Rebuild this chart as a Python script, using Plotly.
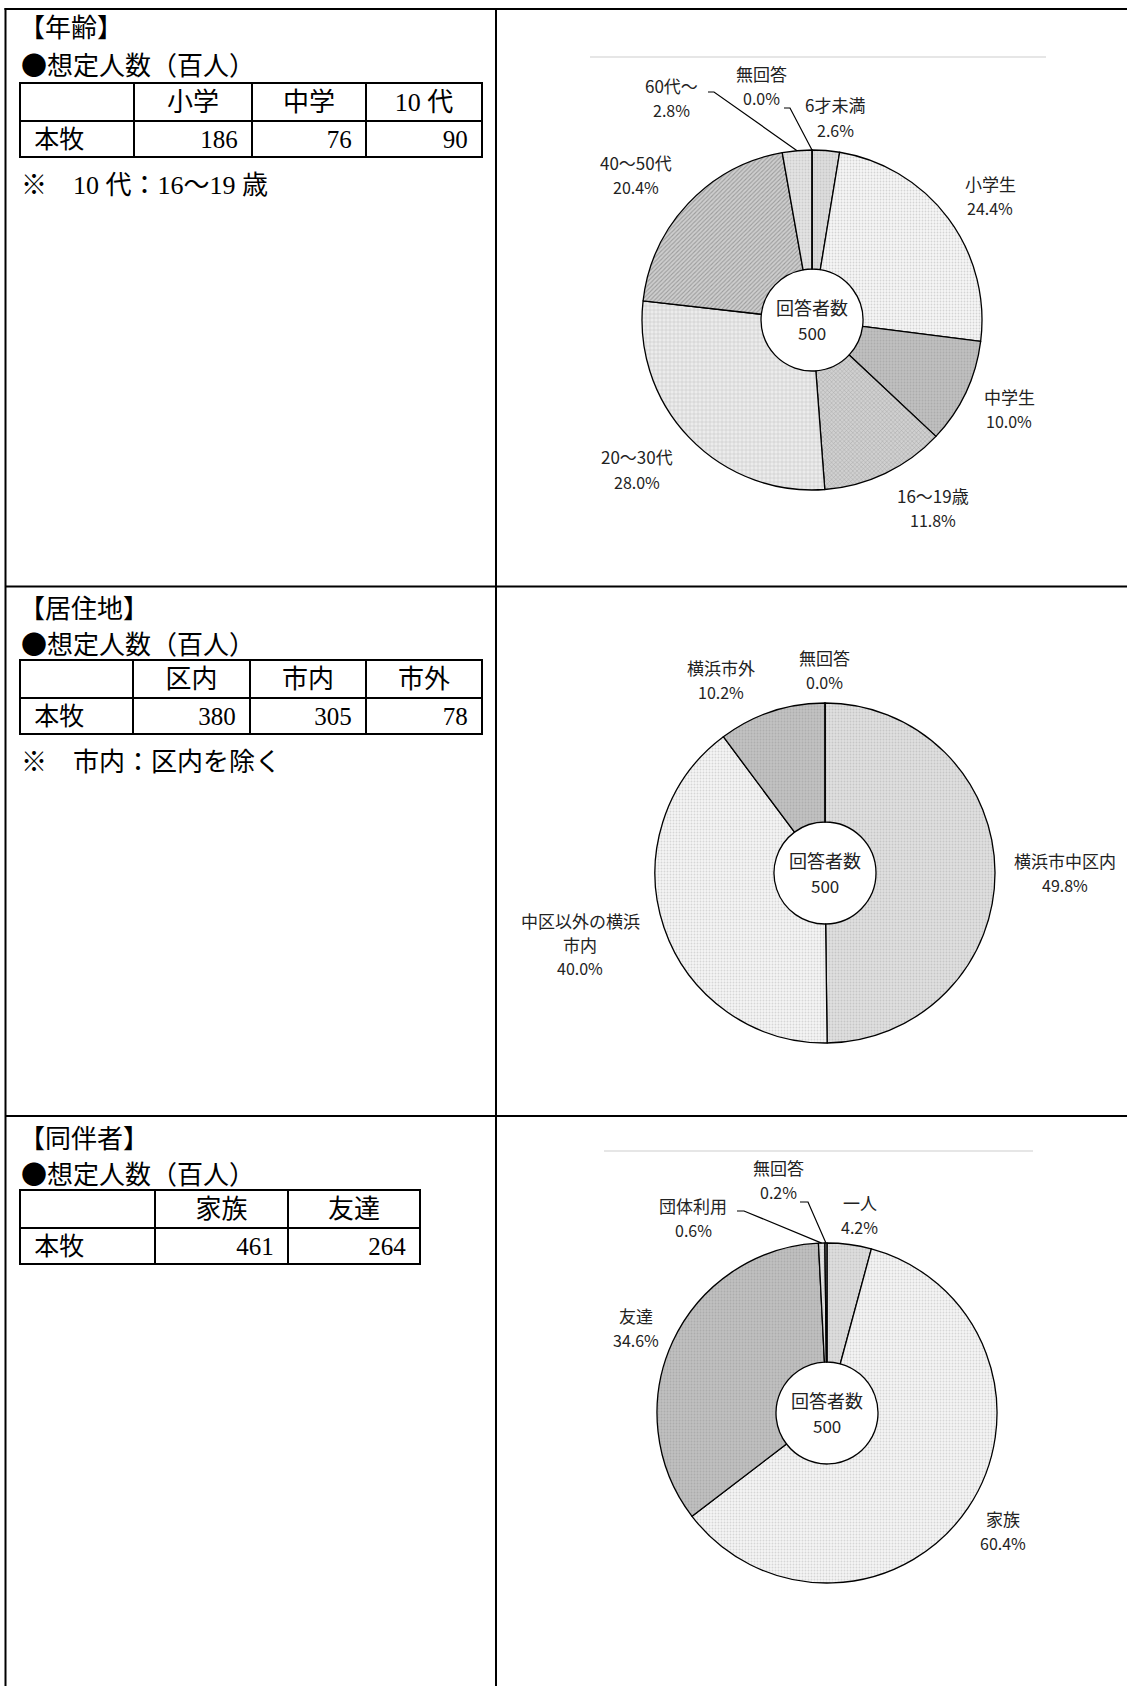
import math
import plotly.graph_objects as go

W, H = 1127, 1686

# ---------------- data ----------------
age_labels = ["6才未満", "小学生", "中学生", "16〜19歳", "20〜30代", "40〜50代", "60代〜", "無回答"]
age_values = [2.6, 24.4, 10.0, 11.8, 28.0, 20.4, 2.8, 0.0]

res_labels = ["横浜市中区内", "中区以外の横浜市内", "横浜市外", "無回答"]
res_values = [49.8, 40.0, 10.2, 0.0]

comp_labels = ["一人", "家族", "友達", "団体利用", "無回答"]
comp_values = [4.2, 60.4, 34.6, 0.6, 0.2]

respondents = 500
center_title = "回答者数"

section_titles = ["【年齢】", "【居住地】", "【同伴者】"]
sub_title = "想定人数（百人）"
row_name = "本牧"
age_tbl_header = ["小学", "中学", "10 代"]
age_tbl_values = [186, 76, 90]
res_tbl_header = ["区内", "市内", "市外"]
res_tbl_values = [380, 305, 78]
comp_tbl_header = ["家族", "友達"]
comp_tbl_values = [461, 264]
notes = ["※　10 代：16〜19 歳", "※　市内：区内を除く", None]

# ---------------- helpers ----------------
def px(x):
    return x / W

def py(y):
    return 1 - y / H

SERIF = "Liberation Serif, 'Noto Sans CJK JP', serif"
SANS = "'Noto Sans CJK JP', sans-serif"
NB = "\u00a0"

fig = go.Figure()
shapes = []
annotations = []

# ---------------- outer grid ----------------
LW = 2
shapes.append(dict(type="line", xref="paper", yref="paper", x0=px(4.5), x1=px(W), y0=py(9), y1=py(9),
                   line=dict(color="black", width=LW)))
shapes.append(dict(type="line", xref="paper", yref="paper", x0=px(5.5), x1=px(5.5), y0=py(8), y1=py(H),
                   line=dict(color="black", width=LW)))
shapes.append(dict(type="line", xref="paper", yref="paper", x0=px(496), x1=px(496), y0=py(8), y1=py(H),
                   line=dict(color="black", width=LW)))
for yy in (586.5, 1116):
    shapes.append(dict(type="line", xref="paper", yref="paper", x0=px(5), x1=px(W), y0=py(yy), y1=py(yy),
                       line=dict(color="black", width=LW)))

# faint chart-area borders
for (x0, x1, yy) in [(590, 1046, 57), (604, 1033, 1151)]:
    shapes.append(dict(type="line", xref="paper", yref="paper", x0=px(x0), x1=px(x1), y0=py(yy), y1=py(yy),
                       line=dict(color="#dedede", width=1.5)))

# ---------------- left column text + tables ----------------
sections = [
    dict(title_y=26, sub_y=63, tbl_top=83, note_y=185, header=age_tbl_header, vals=age_tbl_values,
         colw=[114, 118, 114, 116], x0=20, x1=482),
    dict(title_y=606, sub_y=642, tbl_top=660, note_y=762, header=res_tbl_header, vals=res_tbl_values,
         colw=[113, 117, 116, 116], x0=20, x1=482),
    dict(title_y=1136, sub_y=1172, tbl_top=1190, note_y=None, header=comp_tbl_header, vals=comp_tbl_values,
         colw=[135, 133, 132], x0=20, x1=420),
]

for i, s in enumerate(sections):
    annotations.append(dict(x=px(17), y=py(s["title_y"]), xref="paper", yref="paper", text=section_titles[i],
                            showarrow=False, xanchor="left", yanchor="middle",
                            font=dict(family=SANS, size=26, color="black")))
    annotations.append(dict(x=px(19), y=py(s["sub_y"]), xref="paper", yref="paper", text="●" + sub_title,
                            showarrow=False, xanchor="left", yanchor="middle",
                            font=dict(family=SANS, size=26, color="black")))
    if notes[i]:
        annotations.append(dict(x=px(19), y=py(s["note_y"]), xref="paper", yref="paper", text=notes[i],
                                showarrow=False, xanchor="left", yanchor="middle",
                                font=dict(family=SERIF, size=26, color="black")))
    ncol = len(s["header"]) + 1
    fig.add_trace(go.Table(
        domain=dict(x=[px(s["x0"]), px(s["x1"])], y=[py(s["tbl_top"] + 140), py(s["tbl_top"])]),
        columnwidth=s["colw"],
        header=dict(values=[""] + s["header"], align="center", height=38,
                    line=dict(color="black", width=2), fill=dict(color="white"),
                    font=dict(family=SERIF, size=26, color="black")),
        cells=dict(values=[[NB + row_name]] + [[f"{v}{NB}"] for v in s["vals"]],
                   align=["left"] + ["right"] * (ncol - 1), height=36,
                   line=dict(color="black", width=2), fill=dict(color="white"),
                   font=dict(family=SERIF, size=25, color="black")),
    ))

# ---------------- pies ----------------
R = 170
HOLE = 0.3

def add_pie(labels, values, cx, cy, bg, fg, shp, sz, sol, label_pos, wrap=None, leaders=()):
    fig.add_trace(go.Pie(
        labels=labels, values=values, sort=False, direction="clockwise", rotation=0,
        hole=HOLE, textinfo="none", hoverinfo="label+percent", showlegend=False,
        marker=dict(colors=bg, line=dict(color="black", width=1.3),
                    pattern=dict(shape=shp, fgcolor=fg, bgcolor=bg, size=sz, solidity=sol, fillmode="replace")),
        domain=dict(x=[px(cx - R), px(cx + R)], y=[py(cy + R), py(cy - R)]),
    ))
    # center text
    annotations.append(dict(x=px(cx), y=py(cy - 13), xref="paper", yref="paper", text=center_title,
                            showarrow=False, xanchor="center", yanchor="middle",
                            font=dict(family=SANS, size=18, color="#222")))
    annotations.append(dict(x=px(cx), y=py(cy + 12), xref="paper", yref="paper", text=str(respondents),
                            showarrow=False, xanchor="center", yanchor="middle",
                            font=dict(family=SANS, size=17, color="#222")))
    # labels
    for lab, val in zip(labels, values):
        lx, ly = label_pos[lab]
        lines = [lab]
        if wrap and len(lab) > wrap:
            lines = [lab[:wrap], lab[wrap:]]
        lines.append(f"{val:.1f}%")
        step = 24 if len(lines) > 2 else 25
        for k, t in enumerate(lines):
            is_pct = (k == len(lines) - 1)
            annotations.append(dict(x=px(lx), y=py(ly + k * step), xref="paper", yref="paper", text=t,
                                    showarrow=False, xanchor="center", yanchor="middle",
                                    font=dict(family=SANS, size=16 if is_pct else 17, color="#222")))
    # leader lines (anchor computed from data)
    total = sum(values)
    cum = 0
    mids = {}
    for lab, val in zip(labels, values):
        mids[lab] = (cum + val / 2) / total
        cum += val
    for lab, (sx, sy, ex) in leaders:
        ang = 2 * math.pi * mids[lab]
        ax = cx + R * math.sin(ang)
        ay = cy - R * math.cos(ang)
        path = f"M {px(sx)} {py(sy)} L {px(ex)} {py(sy)} L {px(ax)} {py(ay)}"
        shapes.append(dict(type="path", xref="paper", yref="paper", path=path,
                           line=dict(color="black", width=1.2)))


add_pie(age_labels, age_values, 812, 320,
        bg=["#dedede", "#f7f7f7", "#c0c0c0", "#d0d0d0", "#ececec", "#cecece", "#e4e4e4", "#ffffff"],
        fg=["#c8c8c8", "#d4d4d4", "#acacac", "#a0a0a0", "#bcbcbc", "#9c9c9c", "#cccccc", "#ffffff"],
        shp=[".", ".", ".", "x", "+", "/", ".", ""],
        sz=[3, 3, 3, 3, 4, 3, 3, 3],
        sol=[0.3, 0.3, 0.3, 0.25, 0.2, 0.35, 0.3, 0.3],
        label_pos={"6才未満": (835, 105), "小学生": (990, 183), "中学生": (1009, 396),
                   "16〜19歳": (933, 495), "20〜30代": (637, 457), "40〜50代": (636, 162),
                   "60代〜": (671, 85), "無回答": (761, 73)},
        leaders=[("60代〜", (708, 92, 714)), ("無回答", (784, 108, 790))])

add_pie(res_labels, res_values, 825, 873,
        bg=["#e0e0e0", "#f5f5f5", "#c2c2c2", "#ffffff"],
        fg=["#c6c6c6", "#d6d6d6", "#aeaeae", "#ffffff"],
        shp=[".", ".", ".", ""],
        sz=[3, 3, 3, 3],
        sol=[0.3, 0.3, 0.3, 0.3],
        label_pos={"横浜市中区内": (1065, 860), "中区以外の横浜市内": (580, 920),
                   "横浜市外": (721, 667), "無回答": (824, 657)},
        wrap=7)

add_pie(comp_labels, comp_values, 827, 1413,
        bg=["#dedede", "#f5f5f5", "#c0c0c0", "#e4e4e4", "#808080"],
        fg=["#c8c8c8", "#d6d6d6", "#acacac", "#cccccc", "#606060"],
        shp=[".", ".", ".", ".", ""],
        sz=[3, 3, 3, 3, 3],
        sol=[0.3, 0.3, 0.3, 0.3, 0.3],
        label_pos={"一人": (860, 1202), "家族": (1003, 1518), "友達": (636, 1315),
                   "団体利用": (693, 1205), "無回答": (778, 1167)},
        leaders=[("団体利用", (737, 1211, 744)), ("無回答", (800, 1202, 808))])

fig.update_layout(
    width=W, height=H, margin=dict(l=0, r=0, t=0, b=0),
    paper_bgcolor="white", plot_bgcolor="white",
    shapes=shapes, annotations=annotations, showlegend=False,
)

fig.write_html("out.html", config={"displayModeBar": False},
               post_script="document.body.style.margin='0px';")
